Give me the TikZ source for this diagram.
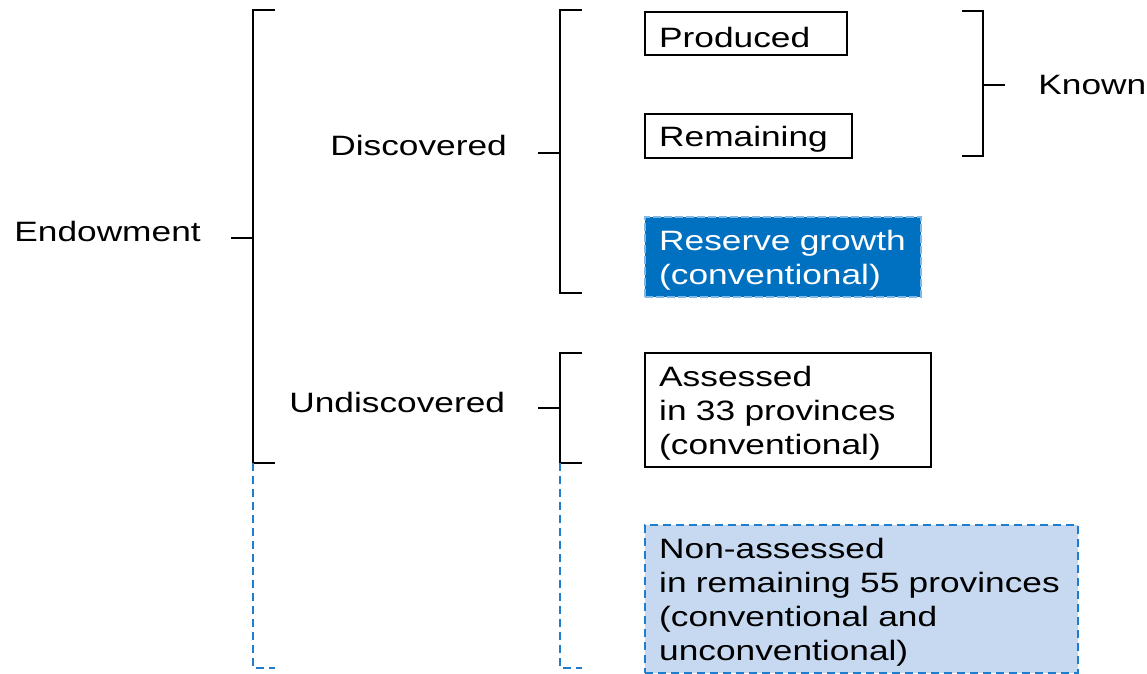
\documentclass[tikz,border=0pt]{standalone}
\usepackage{fontspec}
\setmainfont{Liberation Sans}[FakeStretch=1.26]
\definecolor{resblue}{RGB}{0,112,192}
\definecolor{dashblue}{RGB}{30,125,205}
\definecolor{paleblue}{RGB}{198,217,240}

\begin{document}
\begin{tikzpicture}[
	x=0.5pt, y=-0.5pt,
	font=\fontsize{14}{17}\selectfont
]
\tikzset{
    labnode/.style = {anchor=west, inner sep=0pt},
    boxnode/.style = {anchor=north west, draw=black, line width=1.2pt, align=left, inner xsep=7pt, inner ysep=0pt, fill=white, execute at begin node=\rule{0pt}{13.5pt}},
    boxres/.style = {boxnode, draw=dashblue!55!white, fill=resblue, text=white, dash pattern=on 4pt off 1.5pt},
    boxnon/.style = {boxnode, draw=dashblue, fill=paleblue, dash pattern=on 4pt off 2.5pt},
    brack/.style = {line width=1.2pt},
    brackd/.style = {line width=1.3pt, dashblue, dash pattern=on 4pt off 2.5pt},
}
\useasboundingbox (0,0) rectangle (1147,674);
%
\node[labnode] at (14,231) (endow) {Endowment};
\node[labnode] at (330,145) (disc) {Discovered};
\node[labnode] at (289,402) (undisc) {Undiscovered};
\node[labnode] at (1038,85) (known) {Known};
%
\node[boxnode, text width=87pt, minimum height=21.5pt] at (644,11) (prod) {Produced};
\node[boxnode, text width=89.5pt, minimum height=22pt] at (644,113) (rem) {Remaining};
\node[boxres, text width=124pt, minimum height=40pt] at (644,216) (res) {Reserve growth\\(conventional)};
\node[boxnode, text width=129pt, minimum height=57pt] at (644,352) (ass) {Assessed\\in 33 provinces\\(conventional)};
\node[boxnon, text width=202.5pt, minimum height=74pt] at (644,524) (non) {Non-assessed\\in remaining 55 provinces\\(conventional and\\unconventional)};
%
\draw[brack] (275,10) -- (253,10) -- (253,463) -- (275,463);
\draw[brack] (231,238) -- (253,238);
\draw[brackd] (253,463) -- (253,668) -- (275,668);
%
\draw[brack] (582,10) -- (560,10) -- (560,293) -- (582,293);
\draw[brack] (538,153) -- (560,153);
%
\draw[brack] (582,353) -- (560,353) -- (560,463) -- (582,463);
\draw[brack] (538,408) -- (560,408);
\draw[brackd] (560,463) -- (560,668) -- (582,668);
%
\draw[brack] (962,11) -- (983,11) -- (983,156) -- (962,156);
\draw[brack] (983,85) -- (1005,85);
\end{tikzpicture}
\end{document}
